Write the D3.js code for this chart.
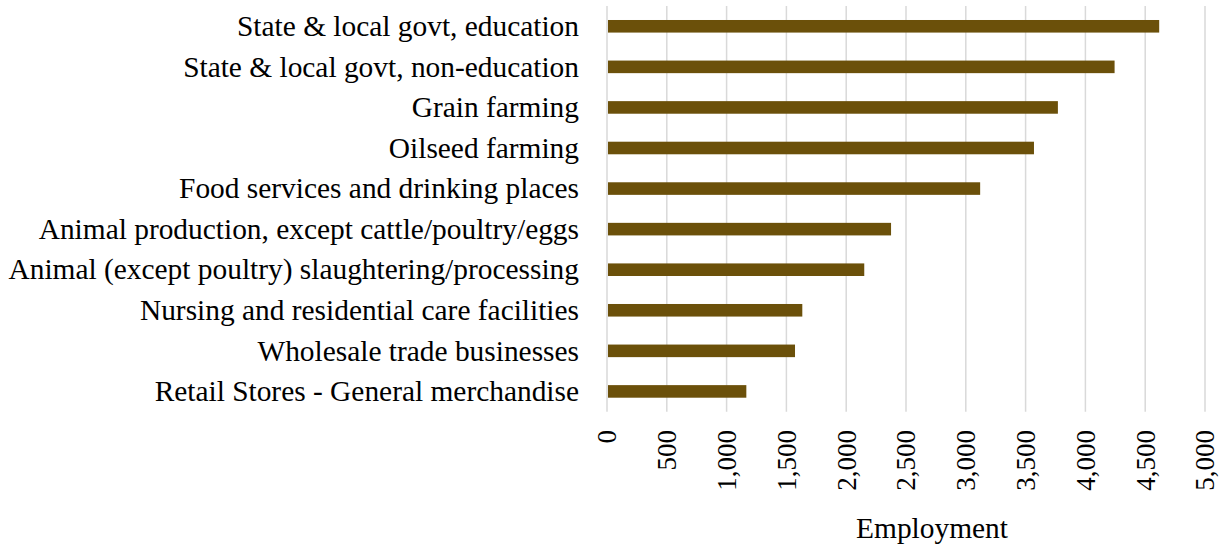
<!DOCTYPE html>
<html>
<head>
<meta charset="utf-8">
<script src="https://cdn.jsdelivr.net/npm/d3@7"></script>
<style>
  html, body { margin: 0; padding: 0; background: #ffffff; }
  svg { display: block; }
  text { font-family: "Liberation Serif", "Times New Roman", serif; fill: #000; }
</style>
</head>
<body>
<svg id="chart" width="1225" height="546"></svg>
<script>
const categories = [
  "State & local govt, education",
  "State & local govt, non-education",
  "Grain farming",
  "Oilseed farming",
  "Food services and drinking places",
  "Animal production, except cattle/poultry/eggs",
  "Animal (except poultry) slaughtering/processing",
  "Nursing and residential care facilities",
  "Wholesale trade businesses",
  "Retail Stores - General merchandise"
];
const employment = [4617, 4244, 3770, 3570, 3120, 2375, 2151, 1633, 1572, 1165];
const tickValues = [0, 500, 1000, 1500, 2000, 2500, 3000, 3500, 4000, 4500, 5000];
const axisTitle = "Employment";

const svg = d3.select("#chart");
const x = d3.scaleLinear().domain([0, 5000]).range([607, 1205]);
const y = d3.scaleBand().domain(categories).range([6, 411.7]).paddingInner(0.69).paddingOuter(0.345);

// gridlines
svg.append("g").selectAll("line").data(tickValues).join("line")
  .attr("x1", d => x(d)).attr("x2", d => x(d))
  .attr("y1", 6).attr("y2", 411.7)
  .attr("stroke", "#d9d9d9").attr("stroke-width", 1.5);

// bars
svg.append("g").selectAll("rect").data(categories).join("rect")
  .attr("x", x(0) + 1)
  .attr("y", d => y(d))
  .attr("width", (d, i) => x(employment[i]) - x(0) - 1)
  .attr("height", y.bandwidth())
  .attr("fill", "#6b500a");

// category labels
const labelSize = 29.4;
svg.append("g").selectAll("text").data(categories).join("text")
  .attr("x", 579)
  .attr("y", d => y(d) + y.bandwidth() / 2)
  .attr("dy", "0.33em")
  .attr("text-anchor", "end")
  .style("font-size", labelSize + "px")
  .text(d => d);

// x axis tick labels (rotated)
const fmt = d3.format(",");
svg.append("g").selectAll("text").data(tickValues).join("text")
  .attr("transform", d => `translate(${x(d)},430) rotate(-90)`)
  .attr("text-anchor", "end")
  .attr("dy", "0.35em")
  .style("font-size", "27px")
  .text(d => fmt(d));

// axis title
svg.append("text")
  .attr("x", 932).attr("y", 538)
  .attr("text-anchor", "middle")
  .style("font-size", "29.4px")
  .text(axisTitle);
</script>
</body>
</html>
